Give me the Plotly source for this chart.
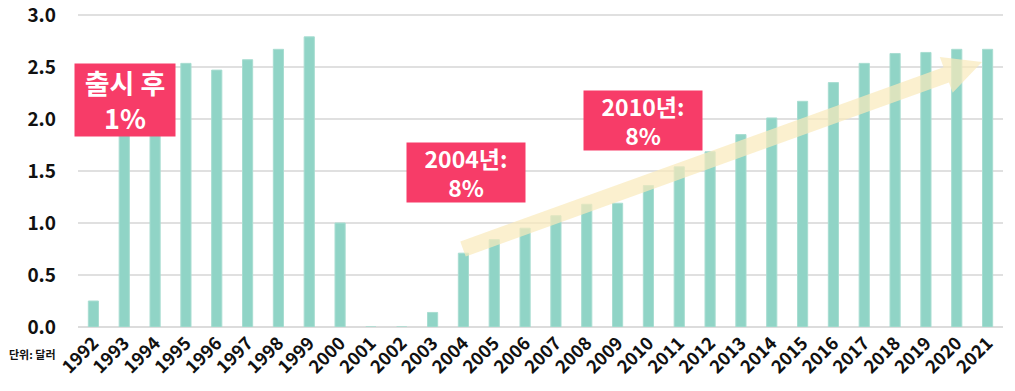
import math
import plotly.graph_objects as go

years = [str(y) for y in range(1992, 2022)]
values = [0.25, 2.0, 2.2, 2.535, 2.47, 2.57, 2.67, 2.79, 1.0, 0.0,
          0.0, 0.14, 0.71, 0.84, 0.95, 1.07, 1.18, 1.19, 1.36, 1.54,
          1.685, 1.85, 2.01, 2.17, 2.35, 2.535, 2.63, 2.64, 2.67, 2.67]
y_ticks = [0, 0.5, 1.0, 1.5, 2.0, 2.5, 3.0]
y_tick_text = ["0.0", "0.5", "1.0", "1.5", "2.0", "2.5", "3.0"]
notes = ["출시 후<br>1%", "2004년:<br>8%", "2010년:<br>8%"]
unit_label = "단위: 달러"

FONT = "Noto Sans CJK KR"
BAR = "#90d4c6"
PINK = "#f73c68"

# layout geometry (pixels)
W, H = 1015, 391
Y0_PX = 327          # pixel row of value 0
PX_Y = 104           # pixels per unit
Y_TOP = 3.0 + 2 / PX_Y
L, R, B = 78, 12, H - Y0_PX
T = Y0_PX - Y_TOP * PX_Y
plot_w = W - L - R
plot_h = H - T - B
n = len(years)
px_x = plot_w / n


def to_data(px, py):
    return ((px - L) / px_x - 0.5, (Y0_PX - py) / PX_Y)


fig = go.Figure()
fig.add_trace(go.Bar(
    x=years, y=values,
    marker=dict(color=BAR, line=dict(color="#a8ddd1", width=1)),
    hoverinfo="x+y",
))

# trend arrow built in pixel space then mapped to data coords
tail = (463, 249)
tip = (982, 62)
dx, dy = tip[0] - tail[0], tip[1] - tail[1]
ln = math.hypot(dx, dy)
ux, uy = dx / ln, dy / ln
nx, ny = -uy, ux
w, hw, hl = 8, 19, 38
bx, by = tip[0] - hl * ux, tip[1] - hl * uy
pts = [
    (tail[0] + w * nx, tail[1] + w * ny),
    (bx + w * nx, by + w * ny),
    (bx + hw * nx, by + hw * ny),
    tip,
    (bx - hw * nx, by - hw * ny),
    (bx - w * nx, by - w * ny),
    (tail[0] - w * nx, tail[1] - w * ny),
]
dpts = [to_data(*p) for p in pts]
path = "M " + " L ".join(f"{x:.4f},{y:.4f}" for x, y in dpts) + " Z"
fig.add_shape(type="path", path=path, xref="x", yref="y",
              fillcolor="rgba(249,234,186,0.7)", line=dict(width=0), layer="above")

# label boxes (pixel centres / sizes)
boxes = [((125, 100), (100, 72), 27), ((466, 172.5), (118, 59), 23), ((643, 120.5), (118, 59), 23)]
for text, ((cx, cy), (bw, bh), fs) in zip(notes, boxes):
    x, y = to_data(cx, cy)
    fig.add_annotation(x=x, y=y, xref="x", yref="y", text=text, showarrow=False,
                       font=dict(family=FONT, size=fs, color="white", weight="bold"),
                       bgcolor=PINK, width=bw, height=bh, borderpad=0,
                       align="center", valign="middle")

fig.add_annotation(x=(7 - L) / plot_w, y=(Y0_PX - 354) / plot_h, xref="paper", yref="paper",
                   text=unit_label, showarrow=False, xanchor="left", yanchor="middle",
                   font=dict(family=FONT, size=11, color="#111", weight="bold"))

fig.update_layout(
    width=W, height=H,
    margin=dict(l=L, r=R, t=T, b=B, autoexpand=False),
    plot_bgcolor="white", paper_bgcolor="white",
    bargap=0.67,
    showlegend=False,
    font=dict(family=FONT, color="#111"),
)
fig.update_xaxes(type="category", tickangle=-45,
                 tickfont=dict(family=FONT, size=18, color="#111", weight="bold"),
                 showgrid=False, showline=False, ticks="", ticklabelstandoff=1,
                 range=[-0.5, n - 0.5])
fig.update_yaxes(range=[0, Y_TOP], tickvals=y_ticks, ticktext=y_tick_text,
                 tickfont=dict(family=FONT, size=19, color="#111", weight="bold"),
                 showgrid=True, gridcolor="#e0e0e0", gridwidth=1.5,
                 zeroline=True, zerolinecolor="#dcdcdc", zerolinewidth=2,
                 showline=False, ticks="", ticklabelstandoff=21,
                 ticklabeloverflow="allow")

fig.write_html("out.html", config={"displayModeBar": False},
               post_script="document.body.style.margin='0';")
